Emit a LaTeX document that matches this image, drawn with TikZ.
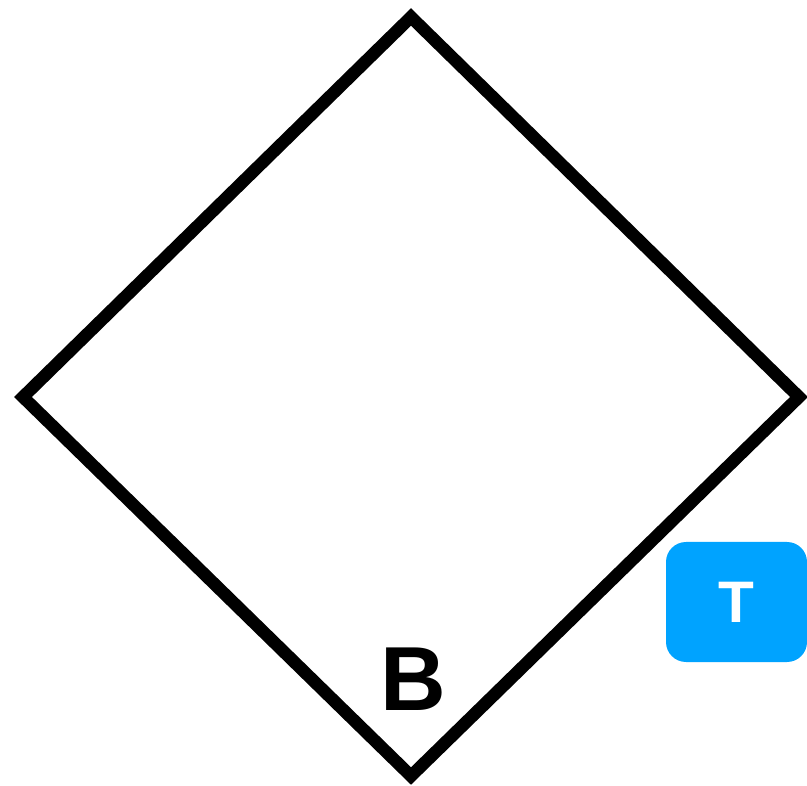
\documentclass[tikz,border=0pt]{standalone}
\usepackage{fontspec}
\setmainfont{Liberation Sans}
\definecolor{tblue}{RGB}{0,163,255}
\tikzset{
  diamondline/.style={line width=12.5pt, line join=miter, draw=black},
  tbadge/.style={fill=tblue, rounded corners=20pt, minimum width=141pt, minimum height=120pt, inner sep=0pt, text=white, font=\bfseries\fontsize{58.6}{60}\selectfont},
  blabel/.style={inner sep=0pt, text=black, font=\bfseries\fontsize{91}{92}\selectfont}
}
\begin{document}
\begin{tikzpicture}[x=1pt,y=-1pt]
\useasboundingbox (0,0) rectangle (807,786);
\coordinate (top) at (411,17);
\coordinate (right) at (799,397);
\coordinate (bottom) at (411,776);
\coordinate (left) at (23,397);
\draw[diamondline] (top) -- (right) -- (bottom) -- (left) -- cycle;
\node[tbadge] (tbox) at (736.5,602) {T};
\node[blabel] (blab) at (413,679) {B};
\end{tikzpicture}
\end{document}
